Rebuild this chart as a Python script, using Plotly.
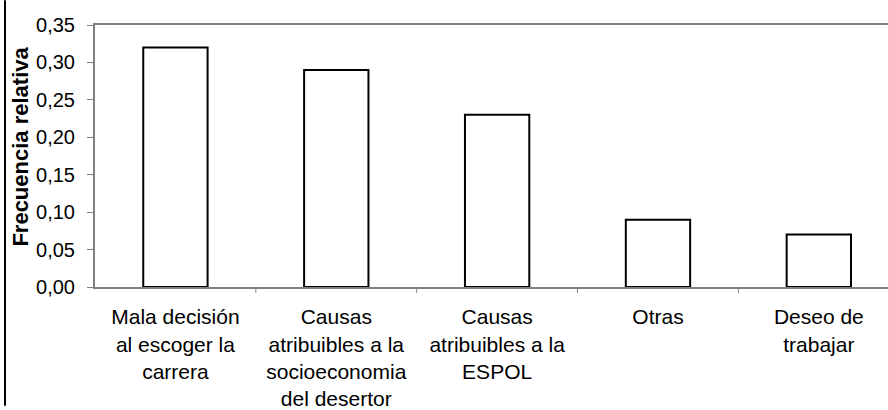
import plotly.graph_objects as go

categories = [
    "Mala decisión<br>al escoger la<br>carrera",
    "Causas<br>atribuibles a la<br>socioeconomia<br>del desertor",
    "Causas<br>atribuibles a la<br>ESPOL",
    "Otras",
    "Deseo de<br>trabajar",
]
values = [0.32, 0.29, 0.23, 0.09, 0.07]
y_title = "Frecuencia relativa"

W, H = 888, 410
ML, MR, MT, MB = 95, 0, 25, 120
FONT = "Liberation Sans, Arial, sans-serif"

fig = go.Figure()
fig.add_trace(go.Bar(
    x=list(range(len(categories))),
    y=values,
    width=0.4,
    marker=dict(color="white", line=dict(color="black", width=2)),
    hoverinfo="skip",
))

pw = W - ML - MR
ph = H - MT - MB
fig.update_layout(
    width=W, height=H,
    margin=dict(l=ML, r=MR, t=MT, b=MB, pad=0),
    paper_bgcolor="white", plot_bgcolor="white",
    separators=", ",
    showlegend=False,
    font=dict(family=FONT, size=20, color="black"),
    xaxis=dict(
        range=[-0.5, 4.43],
        tickmode="array",
        tickvals=list(range(len(categories))),
        ticktext=categories,
        showline=True, linecolor="#808080", linewidth=2, mirror=True,
        showgrid=False, zeroline=False,
        ticks="", ticklen=0,
        tickfont=dict(family=FONT, size=21, color="black"),
        ticklabelstandoff=10,
    ),
    yaxis=dict(
        range=[0, 0.35],
        tick0=0, dtick=0.05,
        tickformat=".2f",
        showline=True, linecolor="#808080", linewidth=2,
        showgrid=False, zeroline=False,
        ticks="outside", ticklen=6, tickcolor="#808080", tickwidth=1,
        tickfont=dict(family=FONT, size=20, color="black"),
        ticklabelstandoff=8,
    ),
)

# tick marks at category boundaries
for b in [0.5, 1.5, 2.5, 3.5]:
    fig.add_shape(type="line", xref="x", yref="paper", x0=b, x1=b,
                  y0=0, y1=-6 / ph, line=dict(color="#808080", width=1))

# chart outer border (left edge visible)
fig.add_shape(type="line", xref="paper", yref="paper",
              x0=(5 - ML) / pw, x1=(5 - ML) / pw,
              y0=-MB / ph, y1=1 + MT / ph,
              line=dict(color="black", width=2))

fig.add_annotation(
    text="<b>" + y_title + "</b>",
    xref="paper", yref="paper",
    x=(21 - ML) / pw, y=(290 - 148) / ph,
    xanchor="center", yanchor="middle",
    textangle=-90, showarrow=False,
    font=dict(family=FONT, size=22, color="black"),
)

fig.write_html("out.html", config={"displayModeBar": False},
               post_script="document.body.style.margin='0';")
